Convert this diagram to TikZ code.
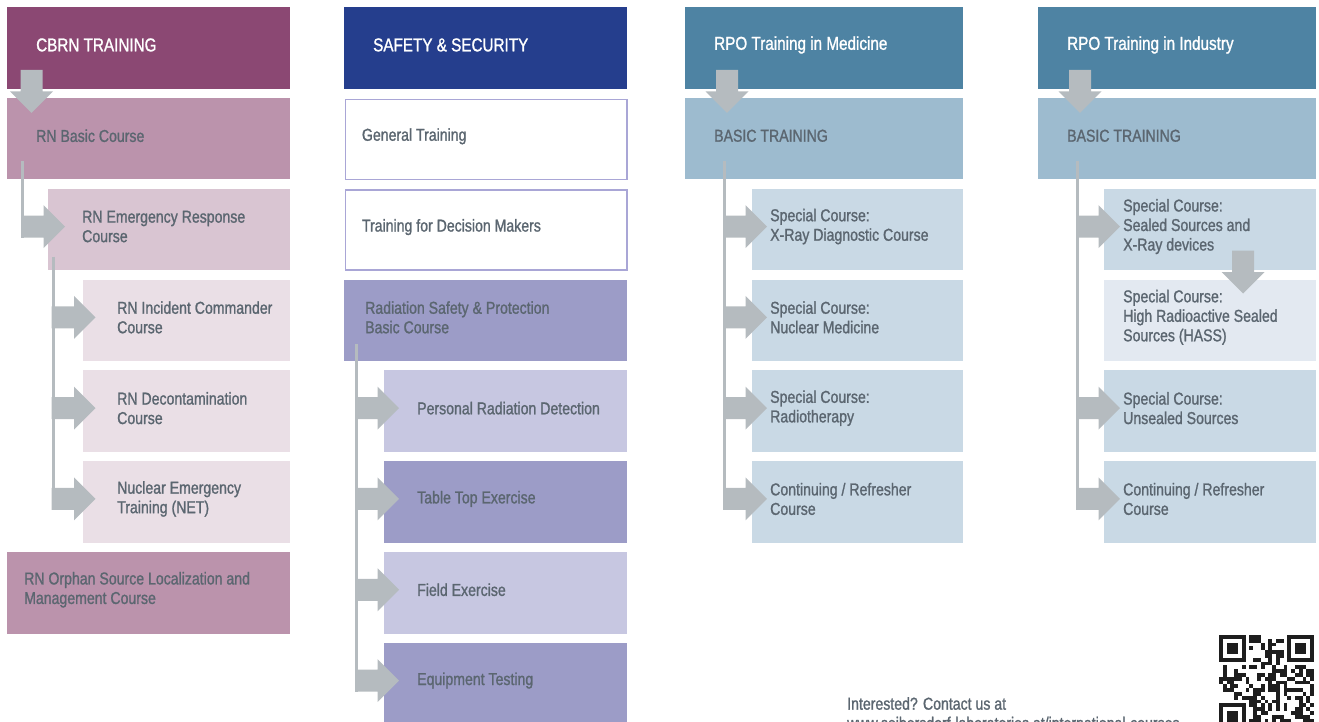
\documentclass[tikz,border=0pt]{standalone}
\usepackage{fontspec}
\usetikzlibrary{positioning,calc}
\newfontfamily\condfont{Liberation Sans}[FakeStretch=0.82,FakeBold=1.2]
\newcommand{\lblfont}{\condfont\fontsize{17.2}{19.5}\selectfont}
\newcommand{\hdrfont}{\condfont\fontsize{18.6}{20}\selectfont}
\definecolor{cbrnDark}{HTML}{8B4873}
\definecolor{cbrnMid}{HTML}{BB93AC}
\definecolor{cbrnLight}{HTML}{D9C5D2}
\definecolor{cbrnPale}{HTML}{EADFE6}
\definecolor{secDark}{HTML}{253E8D}
\definecolor{secBorder}{HTML}{A9A6D6}
\definecolor{secMid}{HTML}{9C9CC7}
\definecolor{secLight}{HTML}{C7C7E1}
\definecolor{rpoDark}{HTML}{4E83A3}
\definecolor{rpoMid}{HTML}{9DBBCF}
\definecolor{rpoLight}{HTML}{C9D9E5}
\definecolor{rpoPale}{HTML}{E3E9F1}
\definecolor{arrowgray}{HTML}{B5BBBF}
\definecolor{txtgray}{HTML}{5B6670}
\definecolor{qrink}{HTML}{1E1E1E}
\tikzset{
  box/.style={rectangle, anchor=north west, inner sep=0pt, minimum height=81.5pt},
  openbox/.style={box, fill=white, draw=secBorder, line width=1.5pt, minimum width=281.5pt, minimum height=80pt},
  lbl/.style={anchor=west, align=left, inner sep=0pt, text=txtgray, font=\lblfont, yshift=3pt},
  hdr/.style={lbl, text=white, font=\hdrfont},
  foot/.style={anchor=north west, align=left, inner sep=0pt, text=txtgray, font=\lblfont},
  trunk/.style={draw=arrowgray, line width=3pt},
  rarrow/.pic={\fill[arrowgray] (-1.5,-11) -- (21,-11) -- (21,-21.5) -- (42.5,0) -- (21,21.5) -- (21,11) -- (-1.5,11) -- cycle;},
  darrow/.pic={\fill[arrowgray] (-11,0) -- (11,0) -- (11,21.5) -- (21.5,21.5) -- (0,43) -- (-21.5,21.5) -- (-11,21.5) -- cycle;}
}
\begin{document}
\begin{tikzpicture}[x=1pt,y=-1pt]
\useasboundingbox (0,0) rectangle (1319,722);
\clip (0,0) rectangle (1319,722);

%Column: CBRN
\node[box, fill=cbrnDark, minimum width=283pt] (cbrn) at (7,7) {};
\node[box, fill=cbrnMid, minimum width=283pt] (rnbasic) at (7,97.8) {};
\node[box, fill=cbrnLight, minimum width=242pt] (rnemerg) at (48,188.6) {};
\node[box, fill=cbrnPale, minimum width=207pt] (rnincident) at (83,279.4) {};
\node[box, fill=cbrnPale, minimum width=207pt] (rndecon) at (83,370.2) {};
\node[box, fill=cbrnPale, minimum width=207pt] (rnnet) at (83,461) {};
\node[box, fill=cbrnMid, minimum width=283pt] (rnorphan) at (7,551.8) {};

%Column: Safety & Security
\node[box, fill=secDark, minimum width=283pt] (sec) at (344,7) {};
\node[openbox] (gentrain) at (344.75,98.55) {};
\node[openbox] (decision) at (344.75,189.35) {};
\node[box, fill=secMid, minimum width=283pt] (radsafe) at (344,279.4) {};
\node[box, fill=secLight, minimum width=243pt] (persdet) at (384,370.2) {};
\node[box, fill=secMid, minimum width=243pt] (tabletop) at (384,461) {};
\node[box, fill=secLight, minimum width=243pt] (fieldex) at (384,551.8) {};
\node[box, fill=secMid, minimum width=243pt] (equiptest) at (384,642.6) {};

%Column: RPO Medicine
\node[box, fill=rpoDark, minimum width=278pt] (med) at (685,7) {};
\node[box, fill=rpoMid, minimum width=278pt] (medbasic) at (685,97.8) {};
\node[box, fill=rpoLight, minimum width=211pt] (xray) at (752,188.6) {};
\node[box, fill=rpoLight, minimum width=211pt] (nucmed) at (752,279.4) {};
\node[box, fill=rpoLight, minimum width=211pt] (radio) at (752,370.2) {};
\node[box, fill=rpoLight, minimum width=211pt] (medrefresh) at (752,461) {};

%Column: RPO Industry
\node[box, fill=rpoDark, minimum width=278pt] (ind) at (1038,7) {};
\node[box, fill=rpoMid, minimum width=278pt] (indbasic) at (1038,97.8) {};
\node[box, fill=rpoLight, minimum width=212pt] (sealed) at (1104,188.6) {};
\node[box, fill=rpoPale, minimum width=212pt] (hass) at (1104,279.4) {};
\node[box, fill=rpoLight, minimum width=212pt] (unsealed) at (1104,370.2) {};
\node[box, fill=rpoLight, minimum width=212pt] (indrefresh) at (1104,461) {};

%Down arrows
\pic at ($(cbrn.south west)+(24.5,-19)$) {darrow};
\pic at ($(med.south west)+(42,-19)$) {darrow};
\pic at ($(ind.south west)+(42,-19)$) {darrow};
\pic at ($(sealed.south west)+(139,-20)$) {darrow};

%Trunks and branch arrows
\coordinate (cbrntrunk) at ($(rnbasic.south west)+(15.5,-19)$);
\draw[trunk] (cbrntrunk) -- ($(cbrntrunk |- rnemerg.west)+(0,8)$);
\pic at ($(cbrntrunk |- rnemerg.west)+(0,-3)$) {rarrow};

\coordinate (emergtrunk) at ($(rnemerg.south west)+(5,-14)$);
\draw[trunk] (emergtrunk) -- ($(emergtrunk |- rnnet.west)+(0,8)$);
\foreach \n in {rnincident,rndecon,rnnet}
  \pic at ($(emergtrunk |- \n.west)+(0,-3)$) {rarrow};

\coordinate (radtrunk) at ($(radsafe.south west)+(12.5,-17)$);
\draw[trunk] (radtrunk) -- ($(radtrunk |- equiptest.west)+(0,8)$);
\foreach \n in {persdet,tabletop,fieldex,equiptest}
  \pic at ($(radtrunk |- \n.west)+(0,-3)$) {rarrow};

\coordinate (medtrunk) at ($(medbasic.south west)+(39.5,-19)$);
\draw[trunk] (medtrunk) -- ($(medtrunk |- medrefresh.west)+(0,8)$);
\foreach \n in {xray,nucmed,radio,medrefresh}
  \pic at ($(medtrunk |- \n.west)+(0,-3)$) {rarrow};

\coordinate (indtrunk) at ($(indbasic.south west)+(39.5,-19)$);
\draw[trunk] (indtrunk) -- ($(indtrunk |- indrefresh.west)+(0,8)$);
\foreach \n in {sealed,unsealed,indrefresh}
  \pic at ($(indtrunk |- \n.west)+(0,-3)$) {rarrow};

%Texts
\node[hdr, right=29pt of cbrn.west] (cbrn-t) {CBRN TRAINING};
\node[lbl, right=29pt of rnbasic.west] (rnbasic-t) {RN Basic Course};
\node[lbl, right=34pt of rnemerg.west] (rnemerg-t) {RN Emergency Response\\Course};
\node[lbl, right=34pt of rnincident.west] (rnincident-t) {RN Incident Commander\\Course};
\node[lbl, right=34pt of rndecon.west] (rndecon-t) {RN Decontamination\\Course};
\node[lbl, right=34pt of rnnet.west] (rnnet-t) {Nuclear Emergency\\Training (NET)};
\node[lbl, right=17pt of rnorphan.west] (rnorphan-t) {RN Orphan Source Localization and\\Management Course};

\node[hdr, right=29pt of sec.west] (sec-t) {SAFETY \& SECURITY};
\node[lbl, right=17pt of gentrain.west] (gentrain-t) {General Training};
\node[lbl, right=17pt of decision.west] (decision-t) {Training for Decision Makers};
\node[lbl, right=21pt of radsafe.west] (radsafe-t) {Radiation Safety \& Protection\\Basic Course};
\node[lbl, right=33pt of persdet.west] (persdet-t) {Personal Radiation Detection};
\node[lbl, right=33pt of tabletop.west] (tabletop-t) {Table Top Exercise};
\node[lbl, right=33pt of fieldex.west] (fieldex-t) {Field Exercise};
\node[lbl, right=33pt of equiptest.west] (equiptest-t) {Equipment Testing};

\node[hdr, right=29pt of med.west] (med-t) {RPO Training in Medicine};
\node[lbl, right=29pt of medbasic.west] (medbasic-t) {BASIC TRAINING};
\node[lbl, right=18pt of xray.west] (xray-t) {Special Course:\\X-Ray Diagnostic Course};
\node[lbl, right=18pt of nucmed.west] (nucmed-t) {Special Course:\\Nuclear Medicine};
\node[lbl, right=18pt of radio.west] (radio-t) {Special Course:\\Radiotherapy};
\node[lbl, right=18pt of medrefresh.west] (medrefresh-t) {Continuing / Refresher\\Course};

\node[hdr, right=29pt of ind.west] (ind-t) {RPO Training in Industry};
\node[lbl, right=29pt of indbasic.west] (indbasic-t) {BASIC TRAINING};
\node[lbl, right=19pt of sealed.west] (sealed-t) {Special Course:\\Sealed Sources and\\X-Ray devices};
\node[lbl, right=19pt of hass.west] (hass-t) {Special Course:\\High Radioactive Sealed\\Sources (HASS)};
\node[lbl, right=19pt of unsealed.west] (unsealed-t) {Special Course:\\Unsealed Sources};
\node[lbl, right=19pt of indrefresh.west] (indrefresh-t) {Continuing / Refresher\\Course};

%Footer
\node[foot] (contact) at (847,697) {Interested? Contact us at\\www.seibersdorf-laboratories.at/international-courses};

%QR code
\pgfmathsetseed{42}
\foreach \i in {0,...,24}{
  \foreach \j in {0,...,24}{
    \pgfmathtruncatemacro{\bit}{rnd<0.5}
    \ifnum\bit=1 \fill[qrink] ({1219+3.8*\i},{635+3.8*\j}) rectangle ++(3.8,3.8); \fi
  }
}
\foreach \fx/\fy/\wx/\wy in {0/0/0/0, 18/0/17/0, 0/18/0/17}{
  \fill[white] ({1219+3.8*\wx},{635+3.8*\wy}) rectangle ++(30.4,30.4);
  \fill[qrink] ({1219+3.8*\fx},{635+3.8*\fy}) rectangle ++(26.6,26.6);
  \fill[white] ({1219+3.8*(\fx+1)},{635+3.8*(\fy+1)}) rectangle ++(19,19);
  \fill[qrink] ({1219+3.8*(\fx+2)},{635+3.8*(\fy+2)}) rectangle ++(11.4,11.4);
}
\end{tikzpicture}
\end{document}
